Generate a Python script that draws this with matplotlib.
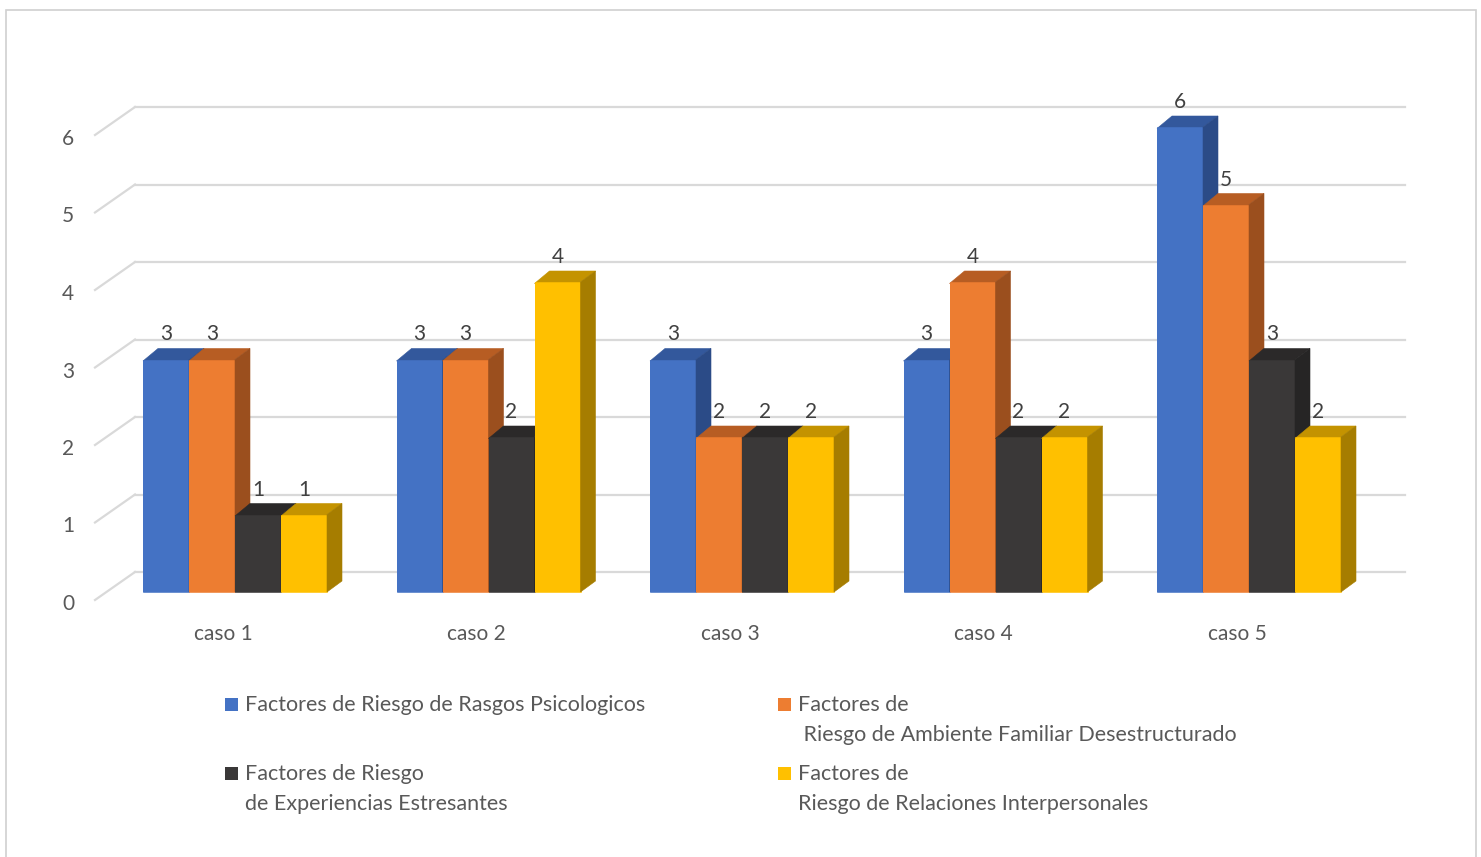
import matplotlib
matplotlib.use("Agg")
import matplotlib.pyplot as plt
from matplotlib.patches import Rectangle, Polygon

# --------------------------
# Data
# --------------------------
cases = ["caso 1", "caso 2", "caso 3", "caso 4", "caso 5"]
series_names = [
    "Factores de Riesgo de Rasgos Psicologicos",
    "Factores de\n Riesgo de Ambiente Familiar Desestructurado",
    "Factores de Riesgo\nde Experiencias Estresantes",
    "Factores de\nRiesgo de Relaciones Interpersonales",
]
psicologicos = [3, 3, 3, 3, 6]
familiar = [3, 3, 2, 4, 5]
estresantes = [1, 2, 2, 2, 3]
interpersonales = [1, 4, 2, 2, 2]
series_values = [psicologicos, familiar, estresantes, interpersonales]
y_ticks = [0, 1, 2, 3, 4, 5, 6]

# --------------------------
# Style
# --------------------------
front_colors = ["#4472C4", "#ED7D31", "#3A3838", "#FFC000"]
top_colors = ["#33589C", "#B75D23", "#2B2929", "#C49300"]
side_colors = ["#2B4B87", "#9B4F1E", "#262525", "#A67D00"]
text_color = "#595959"
grid_color = "#D9D9D9"
plt.rcParams["font.family"] = ["Lato", "DejaVu Sans"]

W, H = 1481, 857
fig = plt.figure(figsize=(W / 100, H / 100), dpi=100)

# axes mapping: 1 category unit = 253.5 px, 1 value unit = 77.5 px
px_x, px_y = 253.5, 77.5
x0, x1 = -0.6, 4.7
y0, y1 = -0.5, 6.8
left = 235 + x0 * px_x
right = 235 + x1 * px_x
bottom = 592 - y0 * px_y
top = 592 - y1 * px_y
ax = fig.add_axes([left / W, 1 - bottom / H, (right - left) / W, (bottom - top) / H])
ax.set_xlim(x0, x1)
ax.set_ylim(y0, y1)
ax.axis("off")

# floor / wall geometry (in data units)
back_dy = 20 / px_y
back_x0 = (135 - 235) / px_x
back_x1 = (1405 - 235) / px_x
wall_front_x = (95 - 235) / px_x
wall_front_dy = -8 / px_y

for v in y_ticks:
    ax.plot([back_x0, back_x1], [v + back_dy, v + back_dy], color=grid_color, lw=1.6, zorder=1)
    ax.plot([wall_front_x, back_x0], [v + wall_front_dy, v + back_dy], color=grid_color, lw=1.6, zorder=1)
    ax.text((68 - 235) / px_x, v - 12 / px_y, str(v), ha="center", va="center",
            fontsize=15, color=text_color)

# bars
bar_w = 46 / px_x
depth_dx = 15 / px_x
depth_dy = 11 / px_y
overlap = 1.5 / px_y
n = len(series_values)
for i, case in enumerate(cases):
    for s in range(n):
        v = series_values[s][i]
        xl = i + (s - n / 2) * bar_w
        xr = xl + bar_w
        z = 3 + i * 10 + s
        ax.add_patch(Rectangle((xl, 0), bar_w, v, facecolor=front_colors[s],
                               edgecolor=front_colors[s], lw=0.4, zorder=z))
        ax.add_patch(Polygon([(xr, 0), (xr, v), (xr + depth_dx, v + depth_dy), (xr + depth_dx, depth_dy)],
                             closed=True, facecolor=side_colors[s], edgecolor=side_colors[s], lw=0.4, zorder=z))
        ax.add_patch(Polygon([(xl, v - overlap), (xr, v - overlap), (xr, v),
                              (xr + depth_dx, v + depth_dy), (xl + depth_dx, v + depth_dy)],
                             closed=True, facecolor=top_colors[s], edgecolor=top_colors[s], lw=0.4, zorder=z - 0.5))
        ax.add_patch(Rectangle((xl, 0), bar_w, v - overlap, facecolor=front_colors[s],
                               edgecolor="none", zorder=z - 0.4))
        ax.text(xl + bar_w / 2, v + 25 / px_y, str(v), ha="center", va="center",
                fontsize=15, color="#404040", zorder=100)
    ax.text(i - 12 / px_x, -42 / px_y, case, ha="center", va="center", fontsize=15, color=text_color)

# legend drawn by hand (marker aligned with first line)
leg_pos = [(225, 704), (778, 704), (225, 773), (778, 773)]
for s, name in enumerate(series_names):
    mx, my = leg_pos[s]
    fig.patches.append(Rectangle((mx / W, 1 - (my + 7) / H), 13 / W, 13 / H,
                                 transform=fig.transFigure, facecolor=front_colors[s], edgecolor="none"))
    fig.text((mx + 20) / W, 1 - (my - 9) / H, name, ha="left", va="top", fontsize=15.5,
             color=text_color, linespacing=1.6)

# chart border
fig.patches.append(Rectangle((5.5 / W, -0.01), 1470.5 / W, 1 - 9.5 / H + 0.01, transform=fig.transFigure,
                             facecolor="none", edgecolor="#D0D0D0", lw=1.2))

fig.savefig("out.png", dpi=100)
